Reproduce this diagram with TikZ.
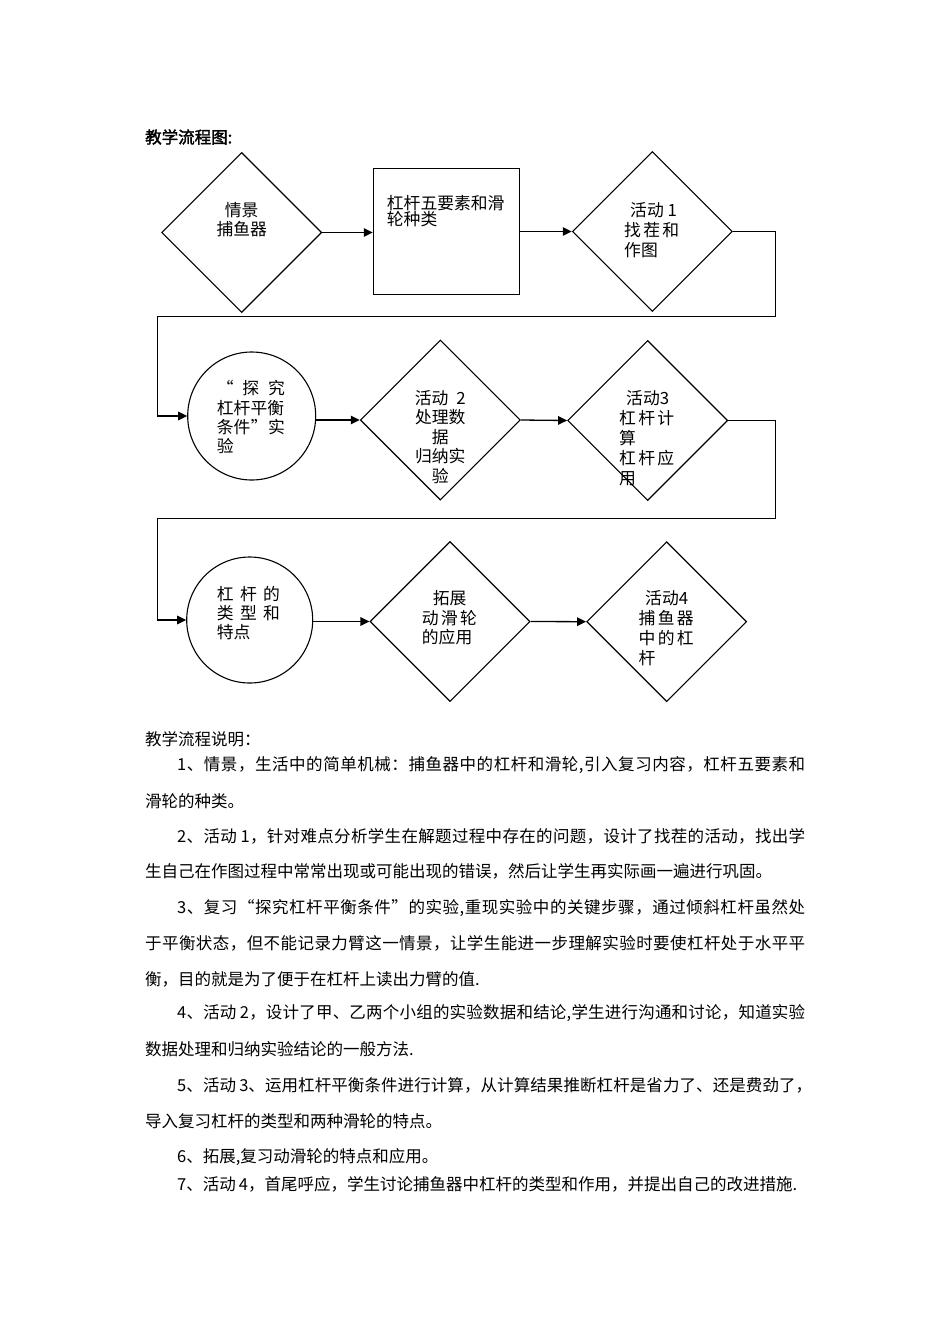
\documentclass[tikz,border=0pt]{standalone}
\usepackage{fontspec}
\setmainfont{Noto Sans CJK SC}
\newfontfamily\titlefont[FakeBold=2]{Noto Sans CJK SC}
\usetikzlibrary{shapes.geometric,arrows.meta}
\newcommand{\jb}[2]{\makebox[#1pt][s]{#2}}
% spread characters evenly over a fixed width
\def\sprB#1{#1\sprA}
\def\sprA#1{\ifx#1\relax\else\hskip0pt plus 1fil #1\expandafter\sprA\fi}
\newcommand{\jline}[2]{\makebox[#1pt][s]{\sprB#2\relax}}
\newcommand{\tsp}{\hspace{3pt}}
\begin{document}
\begin{tikzpicture}[x=1pt,y=-1pt]
\tikzset{
  shp/.style={draw, line width=1.1pt, inner sep=0pt},
  dia/.style={shp, diamond, minimum width=160pt, minimum height=160pt},
  circ/.style={shp, circle, minimum size=128pt},
  conn/.style={line width=1.3pt},
  arr/.style={conn, -{Triangle[length=9pt,width=8.5pt]}},
  lab/.style={inner sep=0pt, font=\fontsize{16.8}{19.4}\selectfont},
  labl/.style={lab, anchor=north west, align=left},
  labc/.style={lab, anchor=north, align=center},
  para/.style={inner sep=0pt, anchor=west, font=\fontsize{16.5}{18}\selectfont},
}
\useasboundingbox (0,0) rectangle (950,1344);
\fill[white] (0,0) rectangle (950,1344);

% title
\node[inner sep=0pt, anchor=west, font=\titlefont\fontsize{16.5}{18}\selectfont] (title) at (145,137) {教学流程图:};

% shapes
\node[dia] (d1) at (241.7,232.5) {};
\node[shp, minimum width=146pt, minimum height=125.7pt] (r1) at (446.3,231.2) {};
\node[dia] (d3) at (652.3,231.5) {};
\node[circ] (c1) at (251.7,416) {};
\node[dia] (d4) at (440.3,420) {};
\node[dia] (d5) at (647.7,420.5) {};
\node[circ, minimum size=126pt] (c2) at (249.7,620) {};
\node[dia] (d6) at (450,621.5) {};
\node[dia] (d7) at (666.7,621.7) {};

% bends
\coordinate (k1) at (775.7,316.7);
\coordinate (k2) at (157.3,316.7);
\coordinate (k3) at (775.7,518.3);
\coordinate (k4) at (157.3,518.3);

% connectors
\draw[arr] (d1.east) -- (d1.east -| r1.west);
\draw[arr] (r1.east |- d3.west) -- (d3.west);
\draw[arr] (d3.east) -| (k1) -- (k2) |- (c1.west);
\draw[arr] (d4.west -| c1.east) -- (d4.west);
\draw[arr] (d4.east) -- (d5.west);
\draw[arr] (d5.east) -| (k3) -- (k4) |- (c2.west);
\draw[arr] (d6.west -| c2.east) -- (d6.west);
\draw[arr] (d6.east) -- (d7.west);

% labels in shapes
\node[labc] (t1) at (241.7,202) {情景\\捕鱼器};
\node[labl, font=\fontsize{16.8}{16.7}\selectfont] (t2) at (386.7,194.7) {杠杆五要素和滑\\轮种类};
\node[labl, font=\fontsize{16.8}{19.6}\selectfont] (t3) at (624,202.7) {\hspace*{6pt}活动 1\\\jb{55}{找\hfill 茬\hfill 和}\\作图};
\node[labl, font=\fontsize{16.8}{19.3}\selectfont] (t4) at (216.7,380.3) {\jb{68}{“\hfill 探\hfill 究}\\杠杆平衡\\\jb{68}{条件\hfill ”\hfill 实}\\验};
\node[labc] (t5) at (440.3,390.3) {活动\hspace{8pt}2\\处理数\\据\\归纳实\\验};
\node[labl, font=\fontsize{16.8}{20}\selectfont] (t6) at (619,390.3) {\hspace*{7pt}活动3\\\jb{55}{杠\hfill 杆\hfill 计}\\算\\\jb{55}{杠\hfill 杆\hfill 应}\\用};
\node[labl, font=\fontsize{16.8}{18.9}\selectfont] (t7) at (216.7,586) {\jb{63}{杠\hfill 杆\hfill 的}\\\jb{63}{类\hfill 型\hfill 和}\\特点};
\node[labl, font=\fontsize{16.8}{19.5}\selectfont] (t8) at (421.7,590.3) {\hspace*{11pt}拓展\\\jb{55}{动\hfill 滑\hfill 轮}\\的应用};
\node[labl, font=\fontsize{16.8}{20}\selectfont] (t9) at (638.5,590.3) {\hspace*{6.5pt}活动4\\\jb{55}{捕\hfill 鱼\hfill 器}\\\jb{55}{中\hfill 的\hfill 杠}\\杆};

% explanation text
\node[para] (p0) at (145,739) {教学流程说明：};
\node[para] (p1) at (177,765) {\jline{628}{1、情景，生活中的简单机械：捕鱼器中的杠杆和滑轮,引入复习内容，杠杆五要素和}};
\node[para] (p2) at (145,801.5) {滑轮的种类。};
\node[para] (p3) at (177,836.5) {\jline{628}{2、活动\tsp 1，针对难点分析学生在解题过程中存在的问题，设计了找茬的活动，找出学}};
\node[para] (p4) at (145,871.5) {生自己在作图过程中常常出现或可能出现的错误，然后让学生再实际画一遍进行巩固。};
\node[para] (p5) at (177,908) {\jline{628}{3、复习“探究杠杆平衡条件”的实验,重现实验中的关键步骤，通过倾斜杠杆虽然处}};
\node[para] (p6) at (145,943) {\jline{660}{于平衡状态，但不能记录力臂这一情景，让学生能进一步理解实验时要使杠杆处于水平平}};
\node[para] (p7) at (145,979) {衡，目的就是为了便于在杠杆上读出力臂的值.};
\node[para] (p8) at (177,1013) {\jline{628}{4、活动\tsp 2，设计了甲、乙两个小组的实验数据和结论,学生进行沟通和讨论，知道实验}};
\node[para] (p9) at (145,1049) {数据处理和归纳实验结论的一般方法.};
\node[para] (p10) at (177,1085) {\jline{635}{5、活动\tsp 3、运用杠杆平衡条件进行计算，从计算结果推断杠杆是省力了、还是费劲了，}};
\node[para] (p11) at (145,1121.5) {导入复习杠杆的类型和两种滑轮的特点。};
\node[para] (p12) at (177,1157) {6、拓展,复习动滑轮的特点和应用。};
\node[para] (p13) at (177,1184) {7、活动\tsp 4，首尾呼应，学生讨论捕鱼器中杠杆的类型和作用，并提出自己的改进措施.};
\end{tikzpicture}
\end{document}
